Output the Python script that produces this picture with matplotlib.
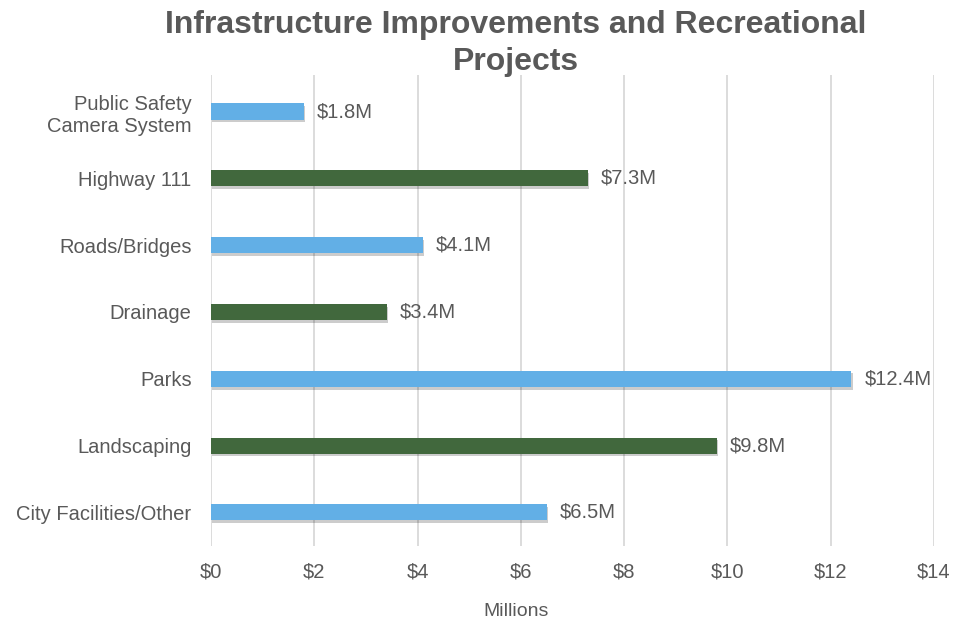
import matplotlib.pyplot as plt
import matplotlib.patheffects as pe

plt.rcParams['font.family'] = ['Liberation Sans', 'DejaVu Sans']

# data, bottom to top
categories = ['City Facilities/Other', 'Landscaping', 'Parks', 'Drainage',
              'Roads/Bridges', 'Highway 111', 'Public Safety\nCamera System']
values = [6.5, 9.8, 12.4, 3.4, 4.1, 7.3, 1.8]
bar_colors = ['#62AFE6', '#41683D', '#62AFE6', '#41683D',
              '#62AFE6', '#41683D', '#62AFE6']
xticks = [0, 2, 4, 6, 8, 10, 12, 14]

text_col = '#595959'

fig = plt.figure(figsize=(9.55, 6.23), dpi=100)
ax = fig.add_axes([0.221, 0.124, 0.757, 0.756])

shadow = [pe.SimplePatchShadow(offset=(1, -2), shadow_rgbFace='#000000', alpha=0.2), pe.Normal()]
bars = ax.barh(range(len(categories)), values, height=0.24, color=bar_colors, zorder=3)
for b in bars:
    b.set_path_effects(shadow)

for i, v in enumerate(values):
    ax.text(v + 0.25, i, f'${v}M', va='center', ha='left', fontsize=14.5, color=text_col)

ax.set_xlim(0, 14)
ax.set_ylim(-0.5, 6.55)
ax.set_xticks(xticks)
ax.set_xticklabels([f'${t}' for t in xticks])
ax.set_yticks(range(len(categories)))
ax.set_yticklabels(categories, linespacing=1.2)
ax.tick_params(axis='both', length=0, labelsize=14.5, labelcolor=text_col)
ax.tick_params(axis='x', pad=12)
ax.tick_params(axis='y', pad=14)
ax.grid(axis='x', color='#D9D9D9', linewidth=1.3, zorder=0)
for s in ax.spines.values():
    s.set_visible(False)

fig.text(0.54, 0.984, 'Infrastructure Improvements and Recreational\nProjects',
         ha='center', va='top', fontsize=23, fontweight='bold', color=text_col,
         linespacing=1.3)
fig.text(0.54, 0.018, 'Millions', ha='center', va='center', fontsize=14, color=text_col)

fig.savefig('out.png', dpi=100)
